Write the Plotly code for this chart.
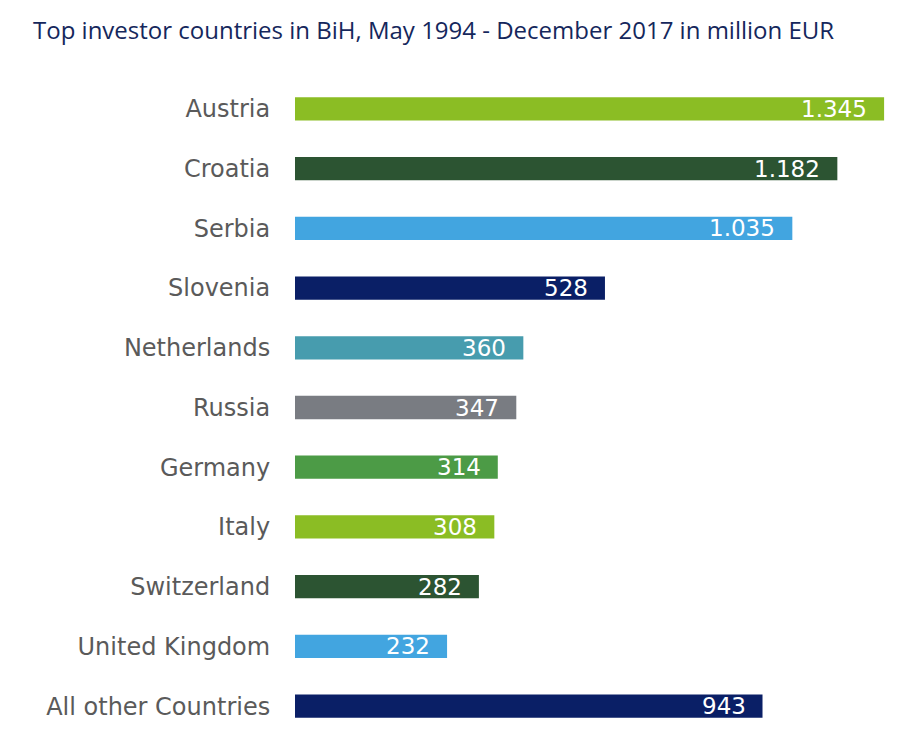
import numpy as np
import plotly.graph_objects as go

countries = ["Austria", "Croatia", "Serbia", "Slovenia", "Netherlands", "Russia",
             "Germany", "Italy", "Switzerland", "United Kingdom", "All other Countries"]
values = [1345, 1182, 1035, 528, 360, 347, 314, 308, 282, 232, 943]
value_labels = ["1.345", "1.182", "1.035", "528", "360", "347", "314", "308", "282", "232", "943"]
colors = ["#8BBD24", "#2C5432", "#42A5E0", "#0A1F66", "#479CAE", "#797C82",
          "#4C9B46", "#8BBD24", "#2C5432", "#42A5E0", "#0A1F66"]

# the reference draws bar lengths on a square-root-like scale
bar_len = np.sqrt(np.array(values, dtype=float))

fig = go.Figure()
fig.add_trace(go.Bar(
    x=bar_len, y=countries, orientation="h",
    marker=dict(color=colors, line=dict(width=0)),
    width=0.39, showlegend=False, hoverinfo="skip",
))

for c, v, t in zip(countries, bar_len, value_labels):
    fig.add_annotation(x=v, y=c, text=t, showarrow=False, xanchor="right",
                       xshift=-15, yshift=0,
                       font=dict(family="DejaVu Sans", size=23, color="white"))

fig.update_layout(
    width=910, height=745,
    margin=dict(l=295, r=16, t=79, b=9),
    paper_bgcolor="white", plot_bgcolor="white",
    title=dict(text="Top investor countries in BiH, May 1994 - December 2017 in million EUR",
               x=33/910, xanchor="left", y=1 - 31/745, yanchor="middle",
               font=dict(family="Open Sans", size=24, color="#15275C")),
    xaxis=dict(range=[7.77, 37.16], visible=False, showgrid=False, zeroline=False),
    yaxis=dict(autorange="reversed", showgrid=False, zeroline=False, showline=False,
               ticks="outside", ticklen=19, tickcolor="rgba(0,0,0,0)",
               tickfont=dict(family="DejaVu Sans", size=24, color="#5A5A5A")),
)

fig.write_html("out.html")
